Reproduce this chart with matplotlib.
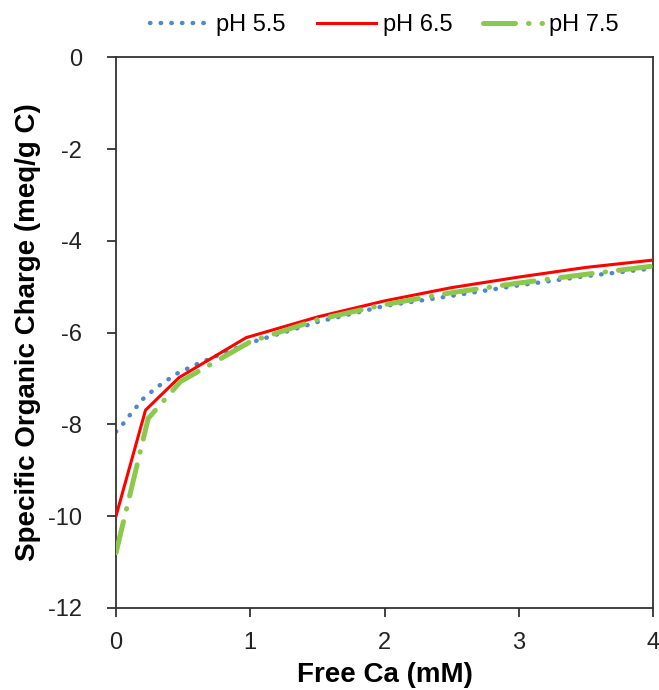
import matplotlib
matplotlib.use("Agg")
import matplotlib.pyplot as plt

plt.rcParams['font.family'] = ['Liberation Sans', 'DejaVu Sans']
plt.rcParams['axes.unicode_minus'] = False

# Data
x_ph55 = [0, 0.05, 0.1, 0.2, 0.3, 0.45, 0.6, 0.75, 1.0, 1.5, 2.0, 2.5, 3.0, 3.5, 4.0]
y_ph55 = [-8.16, -8.0, -7.81, -7.45, -7.2, -6.9, -6.69, -6.51, -6.22, -5.77, -5.42, -5.2, -4.97, -4.77, -4.6]

x_ph65 = [0, 0.22, 0.47, 0.97, 1.5, 2.0, 2.5, 3.0, 3.5, 4.0]
y_ph65 = [-10.0, -7.69, -6.98, -6.11, -5.66, -5.31, -5.02, -4.79, -4.58, -4.42]

x_ph75 = [0, 0.24, 0.48, 1.0, 1.5, 2.0, 2.5, 3.0, 3.5, 4.0]
y_ph75 = [-10.8, -7.87, -7.07, -6.2, -5.72, -5.39, -5.13, -4.92, -4.73, -4.55]

labels = ["pH 5.5", "pH 6.5", "pH 7.5"]
x_ticks = [0, 1, 2, 3, 4]
y_ticks = [-12, -10, -8, -6, -4, -2, 0]

fig = plt.figure(figsize=(6.59, 6.90), dpi=100)
ax = fig.add_axes([0.176, 0.119, 0.815, 0.798])

ax.plot(x_ph55, y_ph55, color='#4f86d0', lw=3.2, linestyle=(0, (0.1, 2.3)),
        dash_capstyle='round', label=labels[0], zorder=2)
ax.plot(x_ph65, y_ph65, color='#ff0000', lw=2.2, label=labels[1], zorder=3)
ax.plot(x_ph75, y_ph75, color='#8cc84b', lw=3.6, linestyle=(0, (6.4, 2.6, 0.1, 2.6)),
        dash_capstyle='round', label=labels[2], zorder=4)

ax.set_xlim(0, 4)
ax.set_ylim(-12, 0)
ax.set_xticks(x_ticks)
ax.set_yticks(y_ticks)
ax.tick_params(direction='out', length=6.5, width=1.2, labelsize=17, colors='#222222')
ax.tick_params(axis='y', pad=18)
ax.tick_params(axis='x', pad=10.5)
for sp in ax.spines.values():
    sp.set_color('#333333')
    sp.set_linewidth(1.3)

ax.set_xlabel("Free Ca (mM)", fontsize=20, fontweight='bold', labelpad=6)
ax.set_ylabel("Specific Organic Charge (meq/g C)", fontsize=20, fontweight='bold', labelpad=5)

leg = ax.legend(loc='lower center', bbox_to_anchor=(0.5, 1.0), ncol=3, frameon=False,
                fontsize=17, handlelength=2.5, columnspacing=1.3, handletextpad=0.3,
                borderaxespad=0.5)

fig.savefig("out.png", dpi=100)
